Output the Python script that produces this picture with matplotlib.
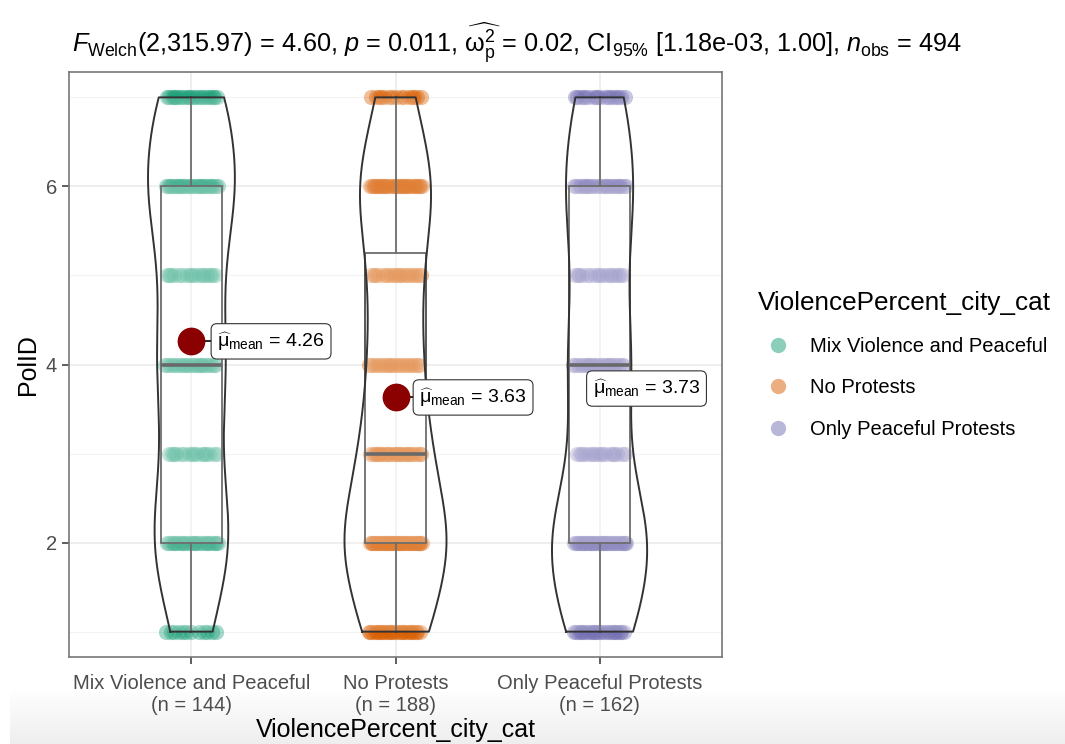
import numpy as np
import matplotlib
matplotlib.use("Agg")
import matplotlib.pyplot as plt
from matplotlib.lines import Line2D

plt.rcParams['font.family'] = ['Liberation Sans', 'DejaVu Sans']
plt.rcParams['mathtext.fontset'] = 'custom'
plt.rcParams['mathtext.rm'] = 'Liberation Sans'
plt.rcParams['mathtext.it'] = 'Liberation Sans:italic'
plt.rcParams['mathtext.bf'] = 'Liberation Sans:bold'
plt.rcParams['mathtext.sf'] = 'Liberation Sans'

# PolID answers (1..7) counted per protest category
groups = ['Mix Violence and Peaceful', 'No Protests', 'Only Peaceful Protests']
scale_vals = [1, 2, 3, 4, 5, 6, 7]
counts_mix = [12, 26, 16, 22, 17, 29, 22]
counts_none = [27, 45, 28, 21, 20, 32, 15]
counts_peace = [24, 38, 17, 23, 17, 25, 18]
mean_vals = [4.26, 3.63, 3.73]
colors = ['#1B9E77', '#D95F02', '#7570B3']

title = (r'$\mathit{F}_{\mathrm{Welch}}$(2,315.97) = 4.60, $\mathit{p}$ = 0.011, '
         r'$\widehat{\mathrm{ω}_{\mathrm{p}}^{2}}$ = 0.02, CI$_{95\%}$ [1.18e-03, 1.00], '
         r'$\mathit{n}_{\mathrm{obs}}$ = 494')


def expand(counts):
    return np.repeat(scale_vals, counts).astype(float)


def nrd0(x):
    q75, q25 = np.percentile(x, [75, 25])
    lo = min(np.std(x, ddof=1), (q75 - q25) / 1.34)
    return 0.9 * lo * len(x) ** -0.2


def kde(x, grid):
    bw = nrd0(x)
    z = (grid[:, None] - x[None, :]) / bw
    return np.exp(-0.5 * z ** 2).sum(axis=1) / (len(x) * bw * np.sqrt(2 * np.pi))


data = [expand(c) for c in (counts_mix, counts_none, counts_peace)]

fig = plt.figure(figsize=(10.65, 7.44), dpi=100)

# light shading strip along the bottom edge
bg = fig.add_axes([10 / 1065, 0, 1, 52 / 744], zorder=-5)
shade = np.linspace(0.995, 0.935, 64)
grad = np.stack([shade, shade, shade], axis=1)[:, None, :].repeat(4, axis=1)
bg.imshow(grad, aspect='auto', extent=[0, 1, 0, 1])
bg.axis('off')

ax = fig.add_axes([69 / 1065, 1 - 657 / 744, (722 - 69) / 1065, (657 - 72) / 744])

# jittered raw points
for i, x in enumerate(data):
    pos = i + 1
    offs = np.zeros_like(x)
    for v in scale_vals:
        idx = np.where(x == v)[0]
        k = np.arange(len(idx))
        offs[idx] = ((k * 0.6180339887 + 0.17 * v) % 1 - 0.5) * 0.26
    ax.scatter(pos + offs, x, s=120, color=colors[i], alpha=0.4, linewidths=0, zorder=2)

# boxplots
ax.boxplot(data, positions=[1, 2, 3], widths=0.3, whis=1.5, showfliers=False,
           patch_artist=True,
           boxprops=dict(facecolor=(1, 1, 1, 0.2), edgecolor='#4a4a4a', linewidth=1.3),
           whiskerprops=dict(color='#4a4a4a', linewidth=1.3),
           capprops=dict(linewidth=0),
           medianprops=dict(color='#444444', linewidth=2.6),
           zorder=3)

# violins, area scaled against the largest density
grid = np.linspace(1, 7, 512)
dens = [kde(x, grid) for x in data]
gmax = max(d.max() for d in dens)
for i, d in enumerate(dens):
    hw = 0.25 * d / gmax
    pos = i + 1
    ax.fill_betweenx(grid, pos - hw, pos + hw, facecolor=(1, 1, 1, 0.2),
                     edgecolor='none', zorder=4)
    xs = np.concatenate([pos - hw, (pos + hw)[::-1], [pos - hw[0]]])
    ys = np.concatenate([grid, grid[::-1], [grid[0]]])
    ax.plot(xs, ys, color='#333333', lw=1.4, zorder=4)

# means with labels
label_x = [1.10, 2.09, 2.94]
for i, m in enumerate(mean_vals):
    pos = i + 1
    ax.plot([pos + 0.02, label_x[i]], [m, m], color='black', lw=1.2, zorder=5)
    ax.plot(pos, m, 'o', ms=20, color='#8B0000', mec='none', zorder=5)
    ax.text(label_x[i] + 0.027, m, r'$\widehat{\mathrm{μ}}_{\mathrm{mean}}$ = %.2f' % m,
            ha='left', va='center', fontsize=14, color='black', zorder=6,
            bbox=dict(boxstyle='round,pad=0.32,rounding_size=0.3', fc='white',
                      ec='#333333', lw=0.8))

ax.set_xlim(0.4, 3.6)
ax.set_ylim(0.715, 7.285)
ax.set_xticks([1, 2, 3])
ax.set_xticklabels(['%s\n(n = %d)' % (g, len(x)) for g, x in zip(groups, data)],
                   fontsize=14.5, color='#4D4D4D', linespacing=1.25)
ax.set_yticks([2, 4, 6])
ax.set_yticks([1, 3, 5, 7], minor=True)
ax.tick_params(axis='y', labelsize=14.5, labelcolor='#4D4D4D')
ax.tick_params(axis='x', pad=7)
ax.tick_params(which='major', length=5, width=1.1, color='#333333')
ax.tick_params(which='minor', length=0)
ax.grid(which='major', color='#EBEBEB', lw=1.2)
ax.grid(which='minor', axis='y', color='#F3F3F3', lw=0.8)
ax.set_axisbelow(True)
for s in ax.spines.values():
    s.set_color('#777777')
    s.set_linewidth(1.2)

ax.set_xlabel('ViolencePercent_city_cat', fontsize=18, labelpad=2)
ax.set_ylabel('PolID', fontsize=18, labelpad=4)
ax.set_title(title, fontsize=18.2, loc='left', pad=14, x=0.004)

handles = [Line2D([], [], ls='none', marker='o', ms=11, color=c, alpha=0.5, mec='none')
           for c in colors]
leg = fig.legend(handles, groups, loc='upper left', bbox_to_anchor=(740 / 1065, 1 - 273 / 744),
                 frameon=False, title='ViolencePercent_city_cat', fontsize=14.5,
                 title_fontsize=18.8, labelspacing=1.1, handletextpad=0.6,
                 alignment='left')

fig.savefig('out.png', dpi=100)
